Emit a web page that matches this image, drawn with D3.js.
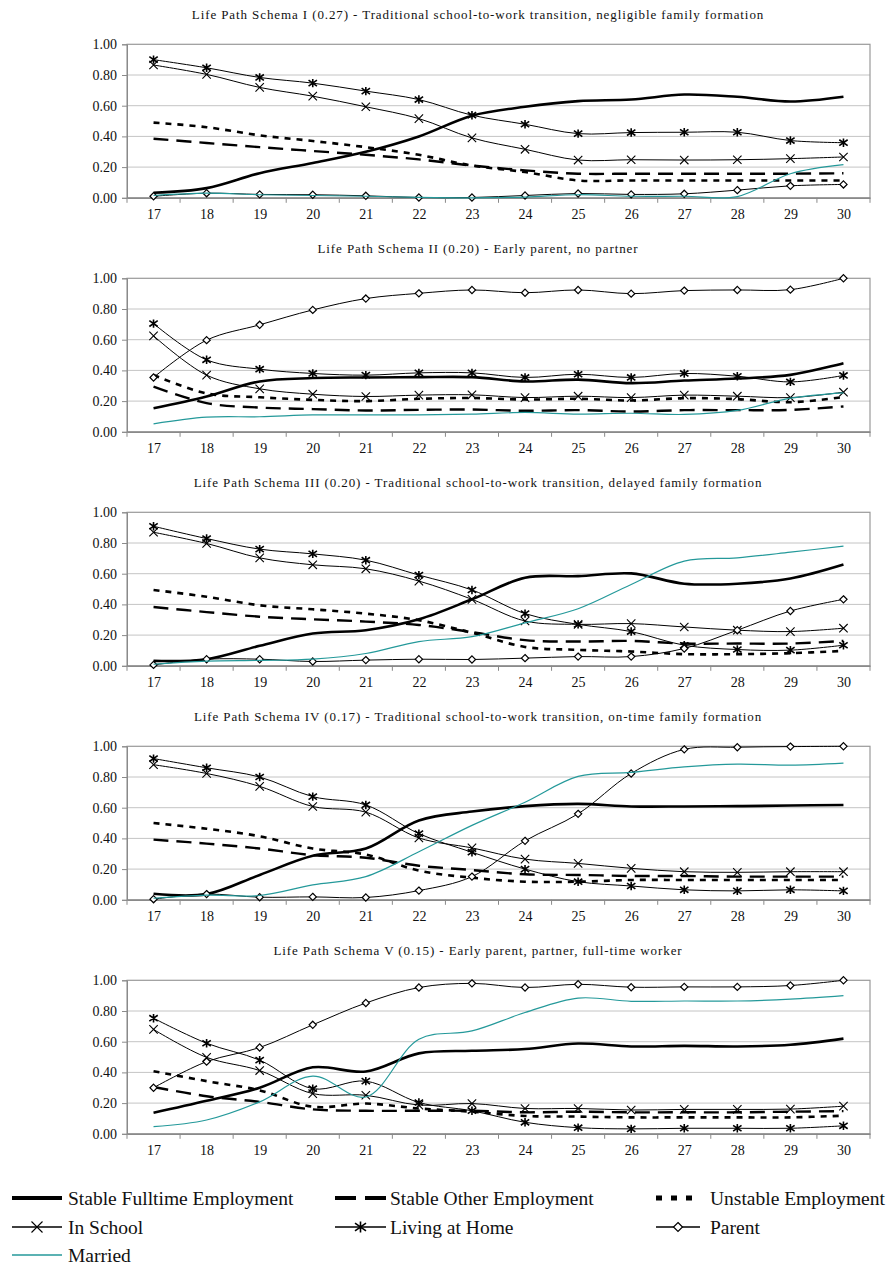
<!DOCTYPE html>
<html>
<head>
<meta charset="utf-8">
<script src="https://cdn.jsdelivr.net/npm/d3@7"></script>
<style>
    body { margin: 0; background: #fff; }
    svg { display: block; font-family: "Liberation Serif", "Times New Roman", "DejaVu Serif", serif; }
    .title { font-size: 13px; letter-spacing: 0.9px; fill: #111; }
    .axis text { font-size: 14px; fill: #111; font-family: "Liberation Serif", "Times New Roman", serif; }
    .axis path, .axis line { stroke: #8a8a8a; }
    .legend text { font-size: 19.5px; fill: #111; }
</style>
</head>
<body>
<div id="chart"></div>
<script>
    const ages = [17, 18, 19, 20, 21, 22, 23, 24, 25, 26, 27, 28, 29, 30];
    const yTicks = [0, 0.2, 0.4, 0.6, 0.8, 1.0];

    const titles = [
        "Life Path Schema I (0.27) - Traditional school-to-work transition, negligible family formation",
        "Life Path Schema II (0.20) - Early parent, no partner",
        "Life Path Schema III (0.20) - Traditional school-to-work transition, delayed family formation",
        "Life Path Schema IV (0.17) - Traditional school-to-work transition, on-time family formation",
        "Life Path Schema V (0.15) - Early parent, partner, full-time worker"
    ];

    // one row per schema (I..V), one value per age 17..30
    const fulltime = [
        [0.033, 0.063, 0.16, 0.227, 0.30, 0.40, 0.535, 0.593, 0.63, 0.64, 0.673, 0.658, 0.627, 0.658],
        [0.154, 0.23, 0.328, 0.35, 0.354, 0.356, 0.356, 0.328, 0.34, 0.317, 0.334, 0.347, 0.371, 0.447],
        [0.032, 0.043, 0.13, 0.21, 0.232, 0.303, 0.433, 0.574, 0.584, 0.602, 0.535, 0.535, 0.569, 0.66],
        [0.039, 0.037, 0.162, 0.287, 0.334, 0.517, 0.575, 0.61, 0.625, 0.608, 0.608, 0.61, 0.614, 0.618],
        [0.137, 0.215, 0.30, 0.433, 0.406, 0.524, 0.541, 0.552, 0.588, 0.569, 0.573, 0.569, 0.58, 0.62]
    ];
    const otherEmp = [
        [0.385, 0.357, 0.33, 0.305, 0.28, 0.25, 0.21, 0.179, 0.157, 0.157, 0.157, 0.157, 0.157, 0.16],
        [0.295, 0.187, 0.158, 0.148, 0.139, 0.143, 0.145, 0.137, 0.141, 0.132, 0.141, 0.141, 0.143, 0.165],
        [0.383, 0.35, 0.32, 0.303, 0.288, 0.266, 0.22, 0.167, 0.158, 0.162, 0.145, 0.145, 0.145, 0.162],
        [0.392, 0.366, 0.334, 0.291, 0.274, 0.222, 0.194, 0.166, 0.162, 0.155, 0.155, 0.151, 0.151, 0.151],
        [0.305, 0.245, 0.208, 0.159, 0.15, 0.15, 0.15, 0.14, 0.144, 0.14, 0.14, 0.14, 0.144, 0.148]
    ];
    const unstable = [
        [0.49, 0.46, 0.407, 0.37, 0.33, 0.28, 0.21, 0.168, 0.113, 0.113, 0.113, 0.113, 0.113, 0.113],
        [0.37, 0.25, 0.225, 0.208, 0.2, 0.215, 0.22, 0.21, 0.215, 0.204, 0.219, 0.213, 0.193, 0.226],
        [0.494, 0.45, 0.394, 0.368, 0.34, 0.297, 0.215, 0.123, 0.104, 0.093, 0.076, 0.076, 0.082, 0.097],
        [0.5, 0.463, 0.414, 0.334, 0.295, 0.19, 0.144, 0.118, 0.118, 0.129, 0.129, 0.129, 0.129, 0.129],
        [0.408, 0.343, 0.283, 0.176, 0.197, 0.165, 0.144, 0.116, 0.112, 0.107, 0.107, 0.107, 0.107, 0.118]
    ];
    const inSchool = [
        [0.865, 0.804, 0.719, 0.662, 0.593, 0.516, 0.39, 0.316, 0.246, 0.248, 0.246, 0.248, 0.255, 0.266],
        [0.625, 0.369, 0.28, 0.245, 0.23, 0.239, 0.241, 0.223, 0.232, 0.223, 0.239, 0.232, 0.223, 0.258],
        [0.87, 0.797, 0.703, 0.658, 0.632, 0.552, 0.433, 0.292, 0.27, 0.275, 0.253, 0.232, 0.223, 0.245],
        [0.88, 0.823, 0.739, 0.608, 0.571, 0.403, 0.338, 0.265, 0.237, 0.205, 0.183, 0.179, 0.183, 0.183],
        [0.68, 0.498, 0.412, 0.262, 0.251, 0.187, 0.197, 0.165, 0.165, 0.155, 0.159, 0.159, 0.161, 0.18]
    ];
    const livingHome = [
        [0.90, 0.847, 0.784, 0.747, 0.695, 0.64, 0.538, 0.479, 0.418, 0.425, 0.427, 0.427, 0.373, 0.359],
        [0.705, 0.469, 0.408, 0.38, 0.369, 0.384, 0.384, 0.354, 0.375, 0.354, 0.38, 0.362, 0.325, 0.367],
        [0.909, 0.829, 0.76, 0.729, 0.688, 0.591, 0.494, 0.34, 0.27, 0.223, 0.134, 0.106, 0.102, 0.134],
        [0.92, 0.86, 0.80, 0.672, 0.618, 0.431, 0.31, 0.20, 0.118, 0.09, 0.065, 0.058, 0.065, 0.058],
        [0.753, 0.59, 0.48, 0.294, 0.343, 0.204, 0.15, 0.075, 0.04, 0.032, 0.036, 0.036, 0.036, 0.052]
    ];
    const parent = [
        [0.01, 0.03, 0.022, 0.02, 0.013, 0.002, 0.002, 0.015, 0.028, 0.022, 0.026, 0.05, 0.078, 0.087],
        [0.354, 0.597, 0.697, 0.794, 0.868, 0.902, 0.924, 0.906, 0.924, 0.90, 0.92, 0.924, 0.926, 1.0],
        [0.006, 0.043, 0.043, 0.028, 0.037, 0.043, 0.041, 0.05, 0.06, 0.06, 0.113, 0.232, 0.357, 0.433],
        [0.004, 0.037, 0.017, 0.019, 0.015, 0.06, 0.151, 0.384, 0.56, 0.823, 0.98, 0.994, 0.998, 1.0],
        [0.30, 0.47, 0.562, 0.71, 0.852, 0.953, 0.98, 0.953, 0.974, 0.955, 0.957, 0.957, 0.966, 1.0]
    ];
    const married = [
        [0.015, 0.03, 0.02, 0.015, 0.01, 0.003, 0.0, 0.005, 0.02, 0.01, 0.01, 0.008, 0.157, 0.216],
        [0.052, 0.095, 0.098, 0.11, 0.11, 0.11, 0.115, 0.126, 0.115, 0.121, 0.113, 0.139, 0.219, 0.254],
        [0.01, 0.03, 0.035, 0.043, 0.08, 0.158, 0.19, 0.28, 0.372, 0.53, 0.682, 0.703, 0.74, 0.78],
        [0.01, 0.03, 0.028, 0.097, 0.151, 0.313, 0.485, 0.636, 0.804, 0.83, 0.866, 0.884, 0.877, 0.89],
        [0.047, 0.09, 0.208, 0.376, 0.24, 0.616, 0.67, 0.79, 0.884, 0.863, 0.865, 0.865, 0.877, 0.90]
    ];

    const teal = "#24999a";

    // series styles, in Excel drawing order
    const series = [
        {name: "Stable Fulltime Employment", values: fulltime, width: 2.6, dash: null, color: "#000", marker: null},
        {name: "Stable Other Employment", values: otherEmp, width: 2.4, dash: "15,8", color: "#000", marker: null},
        {name: "Unstable Employment", values: unstable, width: 2.6, dash: "6,6", color: "#000", marker: null},
        {name: "In School", values: inSchool, width: 1, dash: null, color: "#000", marker: "x"},
        {name: "Living at Home", values: livingHome, width: 1, dash: null, color: "#000", marker: "star"},
        {name: "Parent", values: parent, width: 1, dash: null, color: "#000", marker: "diamond"},
        {name: "Married", values: married, width: 1.2, dash: null, color: teal, marker: null}
    ];

    const W = 889, H = 1269;
    const left = 127, right = 870;
    const panelH = 153.5, firstTop = 44.3, panelStep = 234;

    const svg = d3.select("#chart").append("svg")
        .attr("width", W)
        .attr("height", H);

    const x = d3.scalePoint()
        .domain(ages)
        .range([left, right])
        .padding(0.5);
    const step = x.step();

    function drawMarker(g, type, cx, cy, s) {
        if (type === "x") {
            g.append("path")
                .attr("d", `M${cx - s},${cy - s}L${cx + s},${cy + s}M${cx - s},${cy + s}L${cx + s},${cy - s}`)
                .attr("stroke", "#000").attr("stroke-width", 1.1).attr("fill", "none");
        } else if (type === "star") {
            g.append("path")
                .attr("d", `M${cx - s},${cy - s * 0.7}L${cx + s},${cy + s * 0.7}M${cx - s},${cy + s * 0.7}L${cx + s},${cy - s * 0.7}M${cx},${cy - s}L${cx},${cy + s}`)
                .attr("stroke", "#000").attr("stroke-width", 1.6).attr("fill", "none");
        } else if (type === "diamond") {
            g.append("path")
                .attr("d", `M${cx},${cy - s}L${cx + s},${cy}L${cx},${cy + s}L${cx - s},${cy}Z`)
                .attr("stroke", "#000").attr("stroke-width", 1.2).attr("fill", "#fff");
        }
    }

    titles.forEach(function(title, p) {
        const top = firstTop + p * panelStep;
        const y = d3.scaleLinear()
            .domain([0, 1])
            .range([top + panelH, top]);

        const g = svg.append("g");

        // title
        g.append("text")
            .attr("class", "title")
            .attr("x", 478)
            .attr("y", top - 25)
            .attr("text-anchor", "middle")
            .text(title);

        // gridlines
        g.selectAll(".grid")
            .data(yTicks.slice(1, 5))
            .join("line")
            .attr("x1", left).attr("x2", right)
            .attr("y1", d => y(d)).attr("y2", d => y(d))
            .attr("stroke", "#c4c4c4")
            .attr("stroke-width", 1);

        // plot border
        g.append("rect")
            .attr("x", left).attr("y", y(1))
            .attr("width", right - left).attr("height", y(0) - y(1))
            .attr("fill", "none")
            .attr("stroke", "#9a9a9a")
            .attr("stroke-width", 1.2);

        // y axis
        g.append("g")
            .attr("class", "axis")
            .attr("transform", `translate(${left},0)`)
            .call(d3.axisLeft(y).tickValues(yTicks).tickFormat(d3.format(".2f")).tickSize(5).tickPadding(5));

        // x axis
        const xa = g.append("g")
            .attr("class", "axis")
            .attr("transform", `translate(0,${y(0)})`)
            .call(d3.axisBottom(x).tickSize(0).tickPadding(11));
        xa.select(".domain").attr("stroke", "#8a8a8a").attr("stroke-width", 1.4);

        const bounds = ages.map(a => x(a) - step / 2).concat([x(ages[ages.length - 1]) + step / 2]);
        g.selectAll(".xtick")
            .data(bounds)
            .join("line")
            .attr("x1", d => d).attr("x2", d => d)
            .attr("y1", y(0)).attr("y2", y(0) + 5)
            .attr("stroke", "#8a8a8a");

        const line = d3.line()
            .x((d, i) => x(ages[i]))
            .y(d => y(d))
            .curve(d3.curveCatmullRom.alpha(0.5));

        series.forEach(function(s) {
            const vals = s.values[p];
            g.append("path")
                .datum(vals)
                .attr("d", line)
                .attr("fill", "none")
                .attr("stroke", s.color)
                .attr("stroke-width", s.width)
                .attr("stroke-dasharray", s.dash);
            if (s.marker) {
                vals.forEach(function(v, i) {
                    drawMarker(g, s.marker, x(ages[i]), y(v), s.marker === "diamond" ? 3.6 : 4.2);
                });
            }
        });
    });

    // legend
    const legendCols = [12, 335, 656];
    const legendRows = [1198, 1227, 1255];
    const legendItems = [
        {s: 0, col: 0, row: 0}, {s: 1, col: 1, row: 0}, {s: 2, col: 2, row: 0},
        {s: 3, col: 0, row: 1}, {s: 4, col: 1, row: 1}, {s: 5, col: 2, row: 1},
        {s: 6, col: 0, row: 2}
    ];
    const sampleLen = [50, 51, 44];
    const textX = [68, 390, 710];

    const lg = svg.append("g").attr("class", "legend");
    legendItems.forEach(function(it) {
        const s = series[it.s];
        const x0 = legendCols[it.col], yy = legendRows[it.row];
        const len = sampleLen[it.col];
        let w = 1.6, dash = null;
        if (it.s === 0) w = 4;
        if (it.s === 1) { w = 4; dash = "21,9"; }
        if (it.s === 2) { w = 5; dash = "6,9"; }
        lg.append("line")
            .attr("x1", x0).attr("x2", x0 + len)
            .attr("y1", yy).attr("y2", yy)
            .attr("stroke", s.color)
            .attr("stroke-width", w)
            .attr("stroke-dasharray", dash);
        if (s.marker) drawMarker(lg, s.marker, x0 + len / 2, yy, s.marker === "diamond" ? 4.5 : 5.5);
        lg.append("text")
            .attr("x", textX[it.col])
            .attr("y", yy + 7)
            .text(s.name);
    });
</script>
</body>
</html>
